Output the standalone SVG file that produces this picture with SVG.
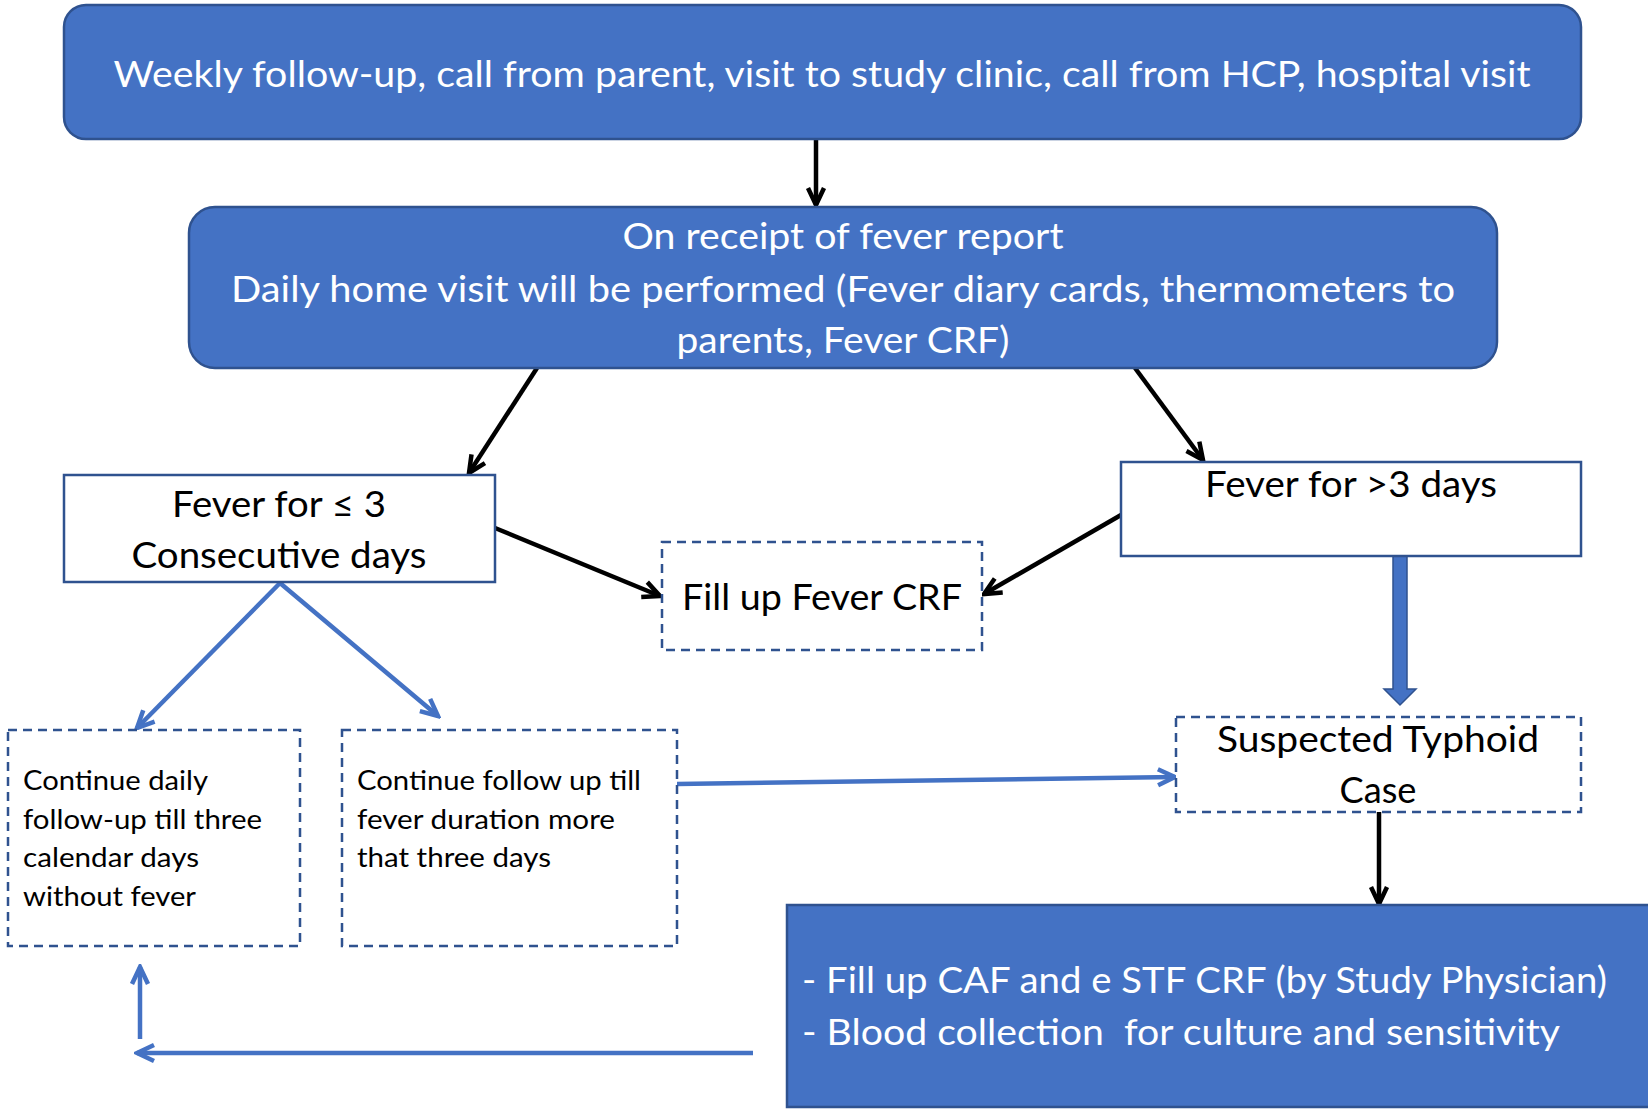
<svg xmlns="http://www.w3.org/2000/svg" width="1648" height="1111" viewBox="0 0 1648 1111">
<style>
.blue{fill:#4472C4;stroke:#2F528F;stroke-width:2.5}
.plain{fill:#fff;stroke:#2F528F;stroke-width:2.5}
.dash{fill:#fff;stroke:#2F528F;stroke-width:2.5;stroke-dasharray:9 6}
.tw{font-family:Lato,"Liberation Sans",sans-serif;fill:#fff;font-size:36px}
.tb{font-family:Lato,"Liberation Sans",sans-serif;fill:#000;font-size:36px}
.ts{font-family:Lato,"Liberation Sans",sans-serif;fill:#000;font-size:27px}
.cb{stroke:#000;stroke-width:4.5;fill:none}
.cl{stroke:#4472C4;stroke-width:4.5;fill:none}
</style>
<defs>
<marker id="ab" markerUnits="userSpaceOnUse" viewBox="0 0 24 24" markerWidth="24" markerHeight="24" refX="21" refY="12" orient="auto">
<path d="M4,4 L21,12 L4,20" fill="none" stroke="#000" stroke-width="4.5" stroke-linejoin="miter"/>
</marker>
<marker id="al" markerUnits="userSpaceOnUse" viewBox="0 0 24 24" markerWidth="24" markerHeight="24" refX="21" refY="12" orient="auto">
<path d="M4,4 L21,12 L4,20" fill="none" stroke="#4472C4" stroke-width="4.5" stroke-linejoin="miter"/>
</marker>
</defs>

<g id="connectors">
<line class="cb" x1="816" y1="140" x2="816" y2="205" marker-end="url(#ab)"/>
<line class="cb" x1="537" y1="368" x2="469" y2="473" marker-end="url(#ab)"/>
<line class="cb" x1="1135" y1="368" x2="1203" y2="460" marker-end="url(#ab)"/>
<line class="cb" x1="495" y1="528" x2="660" y2="596" marker-end="url(#ab)"/>
<line class="cb" x1="1121" y1="515" x2="984" y2="594" marker-end="url(#ab)"/>
<polygon points="1393,556 1407,556 1407,689 1416,689 1400,705 1384,689 1393,689" fill="#4472C4" stroke="#2F528F" stroke-width="1.5"/>
<line class="cl" x1="280" y1="583" x2="137" y2="728" marker-end="url(#al)"/>
<line class="cl" x1="280" y1="583" x2="438" y2="716" marker-end="url(#al)"/>
<line class="cl" x1="677" y1="784" x2="1175" y2="777" marker-end="url(#al)"/>
<line class="cb" x1="1379" y1="812" x2="1379" y2="904" marker-end="url(#ab)"/>
<line class="cl" x1="753" y1="1053" x2="137" y2="1053" marker-end="url(#al)"/>
<line class="cl" x1="140" y1="1039" x2="140" y2="967" marker-end="url(#al)"/>
</g>

<g id="n1">
<rect class="blue" x="64" y="5" width="1517" height="134" rx="22"/>
<text class="tw" x="822" y="87" text-anchor="middle" textLength="1417" lengthAdjust="spacingAndGlyphs">Weekly follow-up, call from parent, visit to study clinic, call from HCP, hospital visit</text>
</g>
<g id="n2">
<rect class="blue" x="189" y="207" width="1308" height="161" rx="26"/>
<text class="tw" x="843" y="249" text-anchor="middle" textLength="441" lengthAdjust="spacingAndGlyphs">On receipt of fever report</text>
<text class="tw" x="843" y="302" text-anchor="middle" textLength="1224" lengthAdjust="spacingAndGlyphs">Daily home visit will be performed (Fever diary cards, thermometers to</text>
<text class="tw" x="843" y="353" text-anchor="middle" textLength="333" lengthAdjust="spacingAndGlyphs">parents, Fever CRF)</text>
</g>
<g id="n3">
<rect class="plain" x="64" y="475" width="431" height="107"/>
<text class="tb" x="279" y="517" text-anchor="middle" textLength="214" lengthAdjust="spacingAndGlyphs">Fever for ≤ 3</text>
<text class="tb" x="279" y="568" text-anchor="middle" textLength="295" lengthAdjust="spacingAndGlyphs">Consecutive days</text>
</g>
<g id="n4">
<rect class="dash" x="662" y="542" width="320" height="108"/>
<text class="tb" x="822" y="610" text-anchor="middle" textLength="280" lengthAdjust="spacingAndGlyphs">Fill up Fever CRF</text>
</g>
<g id="n5">
<rect class="plain" x="1121" y="462" width="460" height="94"/>
<text class="tb" x="1351" y="497" text-anchor="middle" textLength="292" lengthAdjust="spacingAndGlyphs">Fever for &gt;3 days</text>
</g>
<g id="n6">
<rect class="dash" x="1176" y="717" width="405" height="95"/>
<text class="tb" x="1378" y="752" text-anchor="middle" textLength="322" lengthAdjust="spacingAndGlyphs">Suspected Typhoid</text>
<text class="tb" x="1378" y="803" text-anchor="middle" textLength="77" lengthAdjust="spacingAndGlyphs">Case</text>
</g>
<g id="n7">
<rect class="dash" x="8" y="730" width="292" height="216"/>
<text class="ts" x="23" y="790" textLength="185" lengthAdjust="spacingAndGlyphs">Continue daily</text>
<text class="ts" x="23" y="829" textLength="239" lengthAdjust="spacingAndGlyphs">follow-up till three</text>
<text class="ts" x="23" y="867" textLength="176" lengthAdjust="spacingAndGlyphs">calendar days</text>
<text class="ts" x="23" y="906" textLength="173" lengthAdjust="spacingAndGlyphs">without fever</text>
</g>
<g id="n8">
<rect class="dash" x="342" y="730" width="335" height="216"/>
<text class="ts" x="357" y="790" textLength="284" lengthAdjust="spacingAndGlyphs">Continue follow up till</text>
<text class="ts" x="357" y="829" textLength="258" lengthAdjust="spacingAndGlyphs">fever duration more</text>
<text class="ts" x="357" y="867" textLength="194" lengthAdjust="spacingAndGlyphs">that three days</text>
</g>
<g id="n9">
<rect class="blue" x="787" y="905" width="880" height="202"/>
<text class="tw" x="802" y="993" textLength="805" lengthAdjust="spacingAndGlyphs">- Fill up CAF and e STF CRF (by Study Physician)</text>
<text class="tw" x="802" y="1045" textLength="758" lengthAdjust="spacingAndGlyphs" xml:space="preserve">- Blood collection  for culture and sensitivity</text>
</g>
</svg>
